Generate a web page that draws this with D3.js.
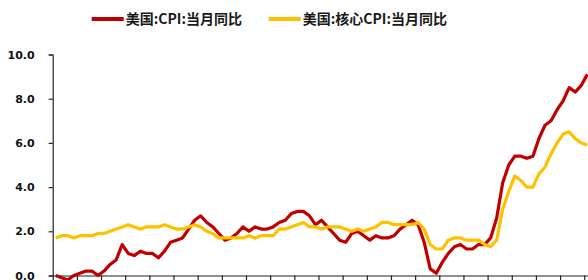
<!DOCTYPE html>
<html>
<head>
<meta charset="utf-8">
<script src="https://cdn.jsdelivr.net/npm/d3@7"></script>
<style>
  html, body { margin: 0; padding: 0; background: #fff; }
  svg { display: block; }
</style>
</head>
<body>
<div id="chart"></div>
<script>
// Monthly data, 2015-02 .. 2022-06
const startYear = 2015, startMonth = 2;
const cpi = [
  0.0, -0.1, -0.2, 0.0, 0.1, 0.2, 0.2, 0.0, 0.2, 0.5, 0.7,
  1.4, 1.0, 0.9, 1.1, 1.0, 1.0, 0.8, 1.1, 1.5, 1.6, 1.7, 2.1,
  2.5, 2.7, 2.4, 2.2, 1.9, 1.6, 1.7, 1.9, 2.2, 2.0, 2.2, 2.1,
  2.1, 2.2, 2.4, 2.5, 2.8, 2.9, 2.9, 2.7, 2.3, 2.5, 2.2, 1.9,
  1.6, 1.5, 1.9, 2.0, 1.8, 1.6, 1.8, 1.7, 1.7, 1.8, 2.1, 2.3,
  2.5, 2.3, 1.5, 0.3, 0.1, 0.6, 1.0, 1.3, 1.4, 1.2, 1.2, 1.4,
  1.4, 1.7, 2.6, 4.2, 5.0, 5.4, 5.4, 5.3, 5.4, 6.2, 6.8, 7.0,
  7.5, 7.9, 8.5, 8.3, 8.6, 9.1
];
const coreCpi = [
  1.7, 1.8, 1.8, 1.7, 1.8, 1.8, 1.8, 1.9, 1.9, 2.0, 2.1,
  2.2, 2.3, 2.2, 2.1, 2.2, 2.2, 2.2, 2.3, 2.2, 2.1, 2.1, 2.2,
  2.3, 2.2, 2.0, 1.9, 1.7, 1.7, 1.7, 1.7, 1.7, 1.8, 1.7, 1.8,
  1.8, 1.8, 2.1, 2.1, 2.2, 2.3, 2.4, 2.2, 2.2, 2.1, 2.2, 2.2,
  2.2, 2.1, 2.0, 2.1, 2.0, 2.1, 2.2, 2.4, 2.4, 2.3, 2.3, 2.3,
  2.3, 2.4, 2.1, 1.4, 1.2, 1.2, 1.6, 1.7, 1.7, 1.6, 1.6, 1.6,
  1.4, 1.3, 1.6, 3.0, 3.8, 4.5, 4.3, 4.0, 4.0, 4.6, 4.9, 5.5,
  6.0, 6.4, 6.5, 6.2, 6.0, 5.9
];
const months = cpi.map((_, i) => {
  const m = startMonth - 1 + i;
  return `${startYear + Math.floor(m / 12)}-${String(m % 12 + 1).padStart(2, "0")}`;
});
const yTicks = [0, 2, 4, 6, 8, 10];
const seriesNames = ["美国:CPI:当月同比", "美国:核心CPI:当月同比"];
const colors = ["#C00000", "#FFC000"];

const width = 588, height = 280;
const plot = { left: 52.7, right: 590.3, top: 54.5, bottom: 275.5 };

const svg = d3.select("#chart").append("svg")
  .attr("width", width)
  .attr("height", height);

// category axis, points in the middle of each month slot
const x = d3.scaleLinear().domain([0, months.length]).range([plot.left, plot.right]);
const xc = i => x(i + 0.5);
const y = d3.scaleLinear().domain([0, 10]).range([plot.bottom, plot.top]);

// y axis
const yAxis = svg.append("g")
  .attr("transform", `translate(${plot.left},0)`)
  .call(d3.axisLeft(y).tickValues(yTicks).tickFormat(d3.format(".1f")).tickSize(4).tickPadding(14));
yAxis.select(".domain").attr("stroke", "#222").attr("stroke-width", 1.2);
yAxis.selectAll(".tick line").attr("stroke", "#222").attr("stroke-width", 1.2);
yAxis.selectAll(".tick text")
  .attr("font-family", "'DejaVu Sans', Verdana, sans-serif")
  .attr("font-weight", "bold")
  .attr("font-size", 11)
  .attr("fill", "#111");

// x axis, tick every 4 months at slot boundaries
const xTicks = d3.range(0, months.length + 1, 4);
const xAxis = svg.append("g")
  .attr("transform", `translate(0,${plot.bottom})`)
  .call(d3.axisBottom(x).tickValues(xTicks).tickFormat("").tickSize(5).tickSizeOuter(0));
xAxis.select(".domain").attr("stroke", "#222").attr("stroke-width", 1.2);
xAxis.selectAll(".tick line").attr("stroke", "#222").attr("stroke-width", 1.2);

// lines
const line = d3.line()
  .x((d, i) => xc(i))
  .y(d => y(d));

[cpi, coreCpi].forEach((s, k) => {
  svg.append("path")
    .datum(s)
    .attr("fill", "none")
    .attr("stroke", colors[k])
    .attr("stroke-width", 3.2)
    .attr("stroke-linejoin", "round")
    .attr("d", line);
});

// legend
const legendX = [91.7, 268.7];
seriesNames.forEach((name, k) => {
  const g = svg.append("g").attr("transform", `translate(${legendX[k]},19)`);
  g.append("line")
    .attr("x1", 0).attr("x2", 32)
    .attr("stroke", colors[k])
    .attr("stroke-width", 4);
  g.append("text")
    .attr("x", 34)
    .attr("dy", "0.36em")
    .attr("font-family", "'Noto Sans CJK SC', sans-serif")
    .attr("font-weight", "bold")
    .attr("font-size", 14)
    .attr("fill", "#1a1a1a")
    .text(name);
});
</script>
</body>
</html>
